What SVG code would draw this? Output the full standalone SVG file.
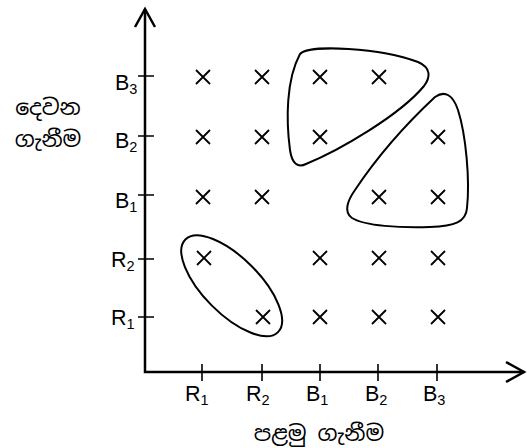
<svg xmlns="http://www.w3.org/2000/svg" width="527" height="448" viewBox="0 0 527 448">
<defs>
<style>
.ax{stroke:#000;stroke-width:2.5;fill:none;stroke-linecap:butt}
.tk{stroke:#000;stroke-width:1.6;fill:none}
.cr{stroke:#000;stroke-width:1.8;fill:none}
.lp{stroke:#000;stroke-width:2;fill:none}
.lb{font-family:"Liberation Sans",Arial,sans-serif;font-size:21.5px;fill:#000}
.sb{font-size:14.5px}
.si{font-family:"Noto Sans Sinhala","Iskoola Pota","Noto Sans",sans-serif;font-size:22px;fill:#000}
</style>
<path id="x" d="M-7,-7L7,7M-7,7L7,-7"/>
</defs>
<g id="axes">
<path class="ax" d="M145,9V372H524"/>
<path class="ax" d="M135,27L145,9L155,27"/>
<path class="ax" d="M506,362L524,372L506,382"/>
</g>
<g id="ticks">
<path class="tk" d="M138,76H154M138,136H154M138,195H154M138,259H154M138,317H154"/>
<path class="tk" d="M202,364V381M262,364V381M320,364V381M378,364V381M437,364V381"/>
</g>
<g id="ylabels">
<text class="lb" x="115" y="90">B<tspan class="sb" dy="4">3</tspan></text>
<text class="lb" x="115" y="148">B<tspan class="sb" dy="4">2</tspan></text>
<text class="lb" x="115" y="208">B<tspan class="sb" dy="4">1</tspan></text>
<text class="lb" x="111" y="267">R<tspan class="sb" dy="4">2</tspan></text>
<text class="lb" x="111" y="325">R<tspan class="sb" dy="4">1</tspan></text>
</g>
<g id="xlabels">
<text class="lb" x="185" y="401">R<tspan class="sb" dy="4">1</tspan></text>
<text class="lb" x="246" y="401">R<tspan class="sb" dy="4">2</tspan></text>
<text class="lb" x="306" y="401">B<tspan class="sb" dy="4">1</tspan></text>
<text class="lb" x="365" y="401">B<tspan class="sb" dy="4">2</tspan></text>
<text class="lb" x="423" y="401">B<tspan class="sb" dy="4">3</tspan></text>
</g>
<g id="axis-titles">
<text class="si" x="48" y="115" text-anchor="middle">දෙවන</text>
<text class="si" x="48" y="147" text-anchor="middle">ගැනීම</text>
<text class="si" x="319" y="441" text-anchor="middle">පළමු ගැනීම</text>
</g>
<g id="crosses" class="cr">
<use href="#x" x="203" y="77"/><use href="#x" x="262" y="77"/><use href="#x" x="320" y="77"/><use href="#x" x="379" y="77"/>
<use href="#x" x="203" y="137"/><use href="#x" x="262" y="137"/><use href="#x" x="320" y="137"/><use href="#x" x="438" y="137"/>
<use href="#x" x="203" y="197"/><use href="#x" x="262" y="197"/><use href="#x" x="379" y="197"/><use href="#x" x="438" y="197"/>
<use href="#x" x="204" y="258"/><use href="#x" x="320" y="258"/><use href="#x" x="379" y="258"/><use href="#x" x="438" y="258"/>
<use href="#x" x="263" y="317"/><use href="#x" x="320" y="317"/><use href="#x" x="379" y="317"/><use href="#x" x="438" y="317"/>
</g>
<g id="loops">
<ellipse id="loop-r" class="lp" cx="231.7" cy="285.8" rx="65.5" ry="28" transform="rotate(45 231.7 285.8)"/>
<path id="loop-b1" class="lp" d="M300,54C310,44 380,48 418,62C432,68 430,78 424,86C400,115 340,150 306,164C298,168 292,164 290,150C286,120 286,80 300,54Z"/>
<path id="loop-b2" class="lp" d="M435,97C445,90 453,95 458,110C466,135 470,180 467,208C466,222 455,226 430,227C400,228 365,226 352,218C343,212 348,200 355,190C375,160 405,125 435,97Z"/>
</g>
</svg>
